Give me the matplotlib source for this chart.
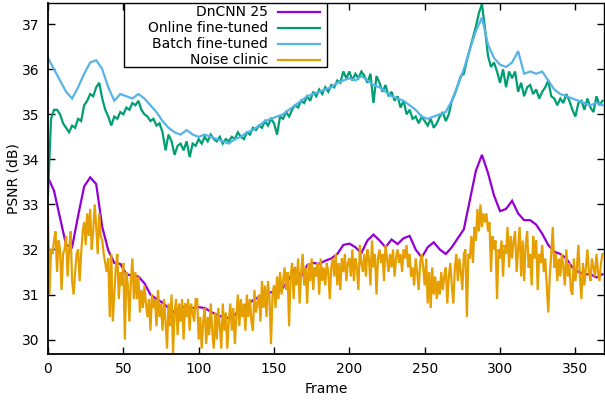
import numpy as np
import matplotlib
matplotlib.use('Agg')
import matplotlib.pyplot as plt
from matplotlib.lines import Line2D

# --- Данные ---
# DnCNN 25, шаг 4 кадра
DNCNN_STEP = 4
dncnn = [
    33.6, 33.3, 32.7, 32.1, 32.05, 32.75, 33.4, 33.6, 33.45, 32.5,
    31.98, 31.7, 31.68, 31.45, 31.42, 31.4, 31.25, 31.0, 30.9, 30.82,
    30.7, 30.6, 30.72, 30.72, 30.7, 30.72, 30.7, 30.62, 30.55, 30.5,
    30.48, 30.55, 30.7, 30.78, 30.87, 30.95, 31.0, 31.05, 31.1, 31.15,
    31.35, 31.58, 31.4, 31.65, 31.7, 31.68, 31.75, 31.8, 31.9, 32.1,
    32.13, 32.05, 31.92, 32.2, 32.33, 32.2, 32.05, 32.22, 32.12, 32.25,
    32.3, 32.0, 31.82, 32.05, 32.16, 32.0, 31.9, 32.05, 32.25, 32.45,
    33.1, 33.75, 34.1, 33.7, 33.2, 32.85, 32.9, 33.08, 32.8, 32.65,
    32.65, 32.55, 32.35, 32.1, 31.95, 31.9, 31.8, 31.6, 31.5, 31.45,
    31.45, 31.38, 31.45,
]

# Online fine-tuned, шаг 2 кадра
ONLINE_STEP = 2
online = [
    33.2, 34.9, 35.1, 35.1, 35.0, 34.8, 34.7, 34.6, 34.75, 34.7,
    34.9, 34.85, 35.2, 35.3, 35.45, 35.4, 35.6, 35.7, 35.35, 35.1,
    34.95, 34.75, 34.95, 34.9, 35.05, 35.0, 35.15, 35.1, 35.25, 35.2,
    35.3, 35.1, 35.0, 34.95, 34.85, 34.9, 34.75, 34.8, 34.6, 34.2,
    34.55, 34.4, 34.1, 34.3, 34.35, 34.2, 34.4, 34.05, 34.35, 34.3,
    34.45, 34.35, 34.5, 34.4, 34.55, 34.45, 34.4, 34.5, 34.35, 34.45,
    34.4, 34.5, 34.45, 34.6, 34.5, 34.45, 34.6, 34.55, 34.7, 34.65,
    34.75, 34.7, 34.85, 34.75, 34.9, 34.8, 34.55, 34.95, 34.9, 35.05,
    34.95, 35.1, 35.2, 35.15, 35.3, 35.25, 35.4, 35.3, 35.5, 35.4,
    35.55, 35.45, 35.6, 35.5, 35.65, 35.6, 35.75, 35.7, 35.95, 35.8,
    35.95, 35.75, 35.9, 35.8, 35.95, 35.85, 35.7, 35.9, 35.25, 35.85,
    35.7, 35.5, 35.65, 35.4, 35.5, 35.3, 35.4, 35.15, 35.3, 35.0,
    35.1, 34.9, 34.95, 34.8, 34.95, 34.85, 34.75, 34.9, 34.7, 34.8,
    34.95, 35.05, 34.85, 35.0, 35.3, 35.45, 35.65, 35.85, 35.9, 36.2,
    36.45, 36.7, 36.95, 37.25, 37.45, 36.9, 36.3, 36.05, 36.15, 35.95,
    35.7, 36.0, 35.6, 35.95, 35.8, 35.95, 35.5, 35.7, 35.4, 35.6,
    35.65, 35.45, 35.55, 35.35, 35.5, 35.6, 35.75, 35.4, 35.35, 35.2,
    35.35, 35.25, 35.45, 35.3, 35.1, 34.95, 35.25, 35.3, 35.1, 35.35,
    35.15, 35.05, 35.4, 35.2, 35.3,
]

# Batch fine-tuned, шаг 4 кадра
BATCH_STEP = 4
batch = [
    36.25, 36.0, 35.75, 35.5, 35.35, 35.6, 35.9, 36.15, 36.2, 36.0,
    35.6, 35.3, 35.45, 35.4, 35.35, 35.45, 35.35, 35.2, 35.05, 34.85,
    34.7, 34.6, 34.55, 34.65, 34.55, 34.5, 34.55, 34.5, 34.45, 34.4,
    34.35, 34.45, 34.5, 34.6, 34.65, 34.75, 34.85, 34.9, 34.95, 35.0,
    35.1, 35.2, 35.3, 35.4, 35.45, 35.5, 35.55, 35.6, 35.7, 35.75,
    35.8, 35.75, 35.85, 35.75, 35.65, 35.6, 35.5, 35.4, 35.35, 35.3,
    35.2, 35.1, 34.95, 34.9, 34.95, 35.0, 35.05, 35.3, 35.65, 36.0,
    36.45, 36.85, 37.15, 36.55, 36.25, 36.1, 36.05, 36.15, 36.4, 35.9,
    35.95, 35.9, 35.95, 35.75, 35.55, 35.45, 35.4, 35.35, 35.3, 35.25,
    35.2, 35.25, 35.2,
]

# Noise clinic, каждый кадр
noise_clinic = [
    32.9, 31.0, 32.0, 31.9, 32.2, 32.4, 31.5, 32.2, 32.0, 31.1,
    31.9, 32.0, 32.3, 31.4, 32.0, 32.4, 31.3, 31.0, 31.5, 31.9,
    32.0, 31.3, 31.9, 32.4, 32.6, 32.1, 32.8, 32.3, 32.9, 32.0,
    32.4, 33.0, 32.5, 31.9, 32.8, 32.3, 32.2, 31.9, 31.7, 31.5,
    31.8, 30.5, 31.9, 30.4, 31.0, 31.6, 31.9, 30.9, 31.5, 31.2,
    31.7, 30.0, 31.5, 31.2, 30.4, 31.3, 31.8, 30.9, 31.5, 30.9,
    31.4, 30.6, 31.1, 30.7, 31.2, 30.8, 30.5, 30.9, 30.2, 31.0,
    30.7, 30.9, 30.3, 31.1, 30.5, 30.8, 30.2, 30.9, 30.4, 29.8,
    30.8, 30.3, 31.0, 29.7, 30.6, 30.9, 30.1, 30.8, 30.4, 30.9,
    30.0, 30.8, 30.5, 30.9, 30.2, 30.8, 30.6, 30.4, 30.9, 30.9,
    30.0, 30.5, 29.8, 30.4, 30.7, 29.9, 30.5, 30.1, 30.8, 30.2,
    29.8, 30.6, 30.0, 30.7, 30.3, 29.8, 30.8, 30.2, 30.6, 29.8,
    30.4, 30.8, 30.2, 30.7, 29.9, 30.5, 31.0, 30.3, 30.9, 30.5,
    30.8, 30.2, 31.0, 30.5, 30.9, 30.4, 30.2, 31.1, 30.6, 30.8,
    31.0, 30.4, 31.3, 30.7, 31.2, 30.5, 31.3, 30.9, 29.9, 31.0,
    31.2, 30.7, 31.4, 30.9, 31.5, 31.0, 31.3, 31.6, 31.1, 31.5,
    30.3, 31.4, 31.7, 30.9, 31.6, 31.2, 31.8, 30.8, 31.5, 31.9,
    31.2, 31.6, 30.8, 31.7, 31.3, 31.8, 31.1, 31.6, 31.4, 31.7,
    31.0, 31.8, 31.3, 31.6, 31.2, 31.7, 31.5, 30.9, 31.6, 31.8,
    31.4, 31.9, 31.2, 31.7, 31.1, 31.8, 31.5, 31.9, 31.3, 31.7,
    31.8, 31.4, 32.0, 31.3, 31.8, 31.6, 31.1, 32.1, 31.7, 31.5,
    31.9, 31.4, 32.0, 31.8, 31.2, 32.2, 31.6, 31.9, 31.0, 31.8,
    32.0, 31.7, 31.9, 31.3, 32.1, 31.8, 31.5, 31.9, 31.6, 32.0,
    31.4, 31.8, 32.0, 31.7, 31.9, 31.5, 32.0, 31.8, 32.1, 31.6,
    31.9, 31.4, 31.6, 31.2, 31.8, 31.5, 31.1, 31.7, 31.9, 31.6,
    31.2, 31.8, 30.8, 31.5, 30.7, 31.6, 31.0, 31.4, 30.9, 31.3,
    31.0, 31.5, 31.1, 31.4, 31.6, 30.8, 31.4, 31.7, 31.2, 30.8,
    31.6, 31.9, 31.3, 31.8, 31.5, 31.1, 31.9, 32.0, 30.5, 31.9,
    31.8, 32.3, 31.7, 32.5, 32.2, 32.9, 32.4, 33.0, 32.5, 32.8,
    32.6, 32.8, 32.4, 32.6, 31.5, 32.3, 32.0, 32.2, 30.9, 32.0,
    31.8, 32.2, 31.4, 32.1, 31.9, 32.5, 31.6, 32.3, 31.8, 32.2,
    32.4, 31.5, 32.0, 32.5, 31.4, 32.2, 31.3, 32.1, 32.4, 31.6,
    31.9, 31.2, 32.3, 31.8, 32.2, 31.1, 31.9, 31.7, 32.1, 31.5,
    31.8, 31.2, 30.6, 31.4, 31.9, 32.5, 31.6, 31.9, 31.3, 31.8,
    31.4, 31.9, 31.6, 31.2, 32.0, 31.4, 31.7, 31.1, 31.0, 31.8,
    31.3, 31.6, 32.1, 31.4, 30.9, 31.7, 31.2, 31.6, 32.0, 31.5,
    31.3, 31.8, 31.6, 31.4, 31.9, 31.5, 31.3, 31.7, 31.9,
]

LABELS = ['DnCNN 25', 'Online fine-tuned', 'Batch fine-tuned', 'Noise clinic']
COLORS = ['#9400d3', '#009e73', '#56b4e9', '#e69f00']

X_TICKS = [0, 50, 100, 150, 200, 250, 300, 350]
Y_TICKS = [30, 31, 32, 33, 34, 35, 36, 37]

OUT_FILE = 'out.png'


def create_plot():
    fig = plt.figure(figsize=(6.05, 4.07), dpi=100)
    ax = fig.add_axes([48 / 605, 53 / 407, 556 / 605, 351 / 407])

    series = [
        (np.arange(len(dncnn)) * DNCNN_STEP, dncnn),
        (np.arange(len(online)) * ONLINE_STEP, online),
        (np.arange(len(batch)) * BATCH_STEP, batch),
        (np.arange(len(noise_clinic)), noise_clinic),
    ]
    for (x, y), color in zip(series, COLORS):
        ax.plot(x, y, color=color, lw=1.6, solid_joinstyle='miter')

    ax.set_xlim(0, 369)
    ax.set_ylim(29.68, 37.47)
    ax.set_xticks(X_TICKS)
    ax.set_yticks(Y_TICKS)
    ax.tick_params(direction='in', length=5, width=1, top=True, right=True,
                   labelsize=10, colors='black', pad=6)
    for side in ['top', 'right']:
        ax.spines[side].set_linewidth(1)
    for side in ['left', 'bottom']:
        ax.spines[side].set_linewidth(1.3)

    ax.set_xlabel('Frame', fontsize=10, labelpad=4)
    ax.set_ylabel('PSNR (dB)', fontsize=10, labelpad=1)

    # --- Легенда в стиле gnuplot: текст выровнен вправо, линия справа ---
    x0, x1 = (124 - 48) / 556, (327 - 48) / 556
    y0 = (354 - 67) / 351
    ax.add_patch(plt.Rectangle((x0, y0), x1 - x0, 1 - y0, transform=ax.transAxes,
                               fill=True, facecolor='white', edgecolor='black',
                               lw=1, zorder=5))
    for i, (label, color) in enumerate(zip(LABELS, COLORS)):
        yy = (354 - (12 + 16 * i)) / 351
        ax.text((268 - 48) / 556, yy, label, transform=ax.transAxes,
                ha='right', va='center', fontsize=10, zorder=6)
        ax.add_line(Line2D([(278 - 48) / 556, (320 - 48) / 556], [yy, yy],
                           transform=ax.transAxes, color=color, lw=1.6, zorder=6))

    fig.savefig(OUT_FILE, dpi=100)


if __name__ == '__main__':
    create_plot()
